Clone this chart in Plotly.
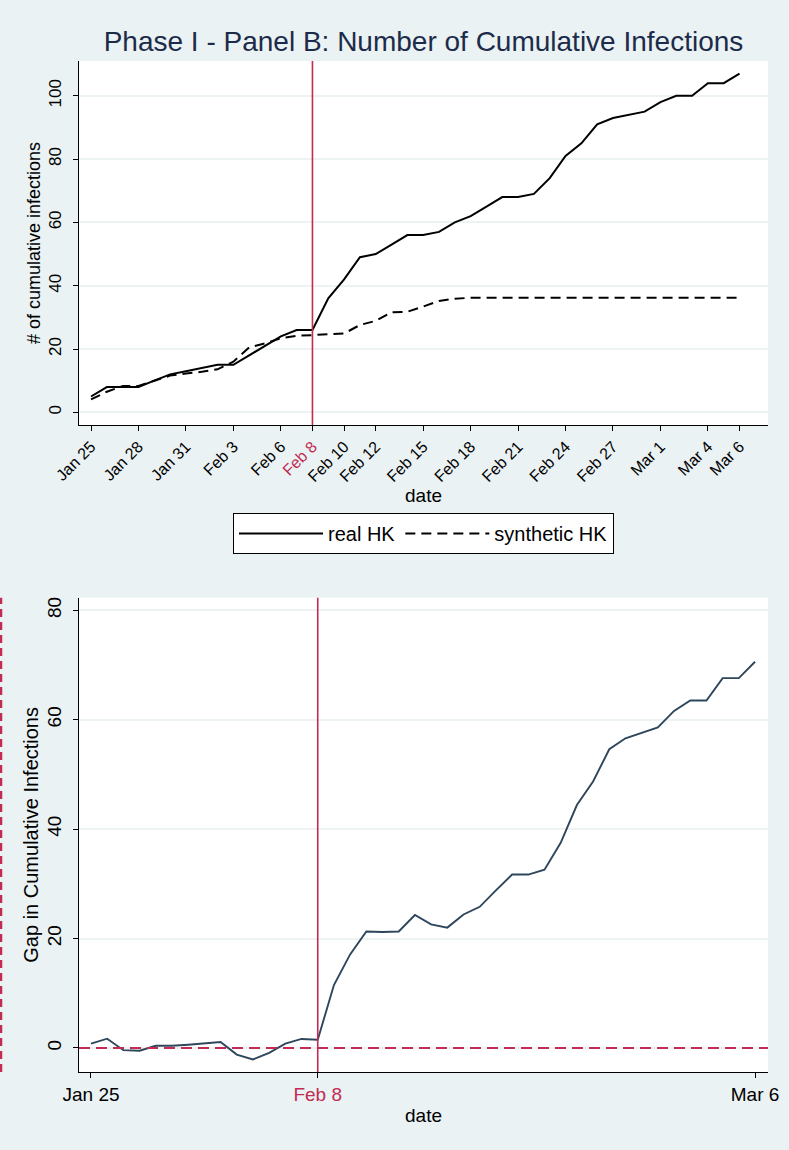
import pandas as pd
import plotly.graph_objects as go

# ---------------- data ----------------
dates = pd.date_range("2020-01-25", "2020-03-06").strftime("%Y-%m-%d").tolist()

real_hk = [5, 8, 8, 8, 10, 12, 13, 14, 15, 15, 18, 21, 24, 26, 26,
           36, 42, 49, 50, 53, 56, 56, 57, 60, 62, 65, 68, 68, 69, 74,
           81, 85, 91, 93, 94, 95, 98, 100, 100, 104, 104, 107]

synthetic_hk = [4.1, 6.5, 8.3, 8.3, 10.0, 11.6, 12.3, 12.8, 13.6, 16.0, 20.5, 21.8, 23.4, 24.2, 24.4,
                24.7, 24.9, 27.6, 28.9, 31.6, 31.8, 33.4, 35.2, 35.9, 36.2, 36.2, 36.2, 36.2, 36.2, 36.2,
                36.2, 36.2, 36.2, 36.2, 36.2, 36.2, 36.2, 36.2, 36.2, 36.2, 36.2, 36.2]

gap = [0.8, 1.7, -0.4, -0.5, 0.4, 0.4, 0.6, 0.85, 1.1, -1.2, -2.1, -0.9, 0.8, 1.65, 1.5,
       11.5, 17.1, 21.3, 21.2, 21.3, 24.3, 22.6, 22.0, 24.4, 25.8, 28.8, 31.7, 31.7, 32.6, 37.5,
       44.4, 48.7, 54.6, 56.6, 57.6, 58.6, 61.6, 63.5, 63.5, 67.6, 67.6, 70.6]

treat_date = "2020-02-08"

top_tick_dates = ["2020-01-25", "2020-01-28", "2020-01-31", "2020-02-03", "2020-02-06", "2020-02-08",
                  "2020-02-10", "2020-02-12", "2020-02-15", "2020-02-18", "2020-02-21", "2020-02-24",
                  "2020-02-27", "2020-03-01", "2020-03-04", "2020-03-06"]
top_tick_labels = ["Jan 25", "Jan 28", "Jan 31", "Feb 3", "Feb 6", "Feb 8", "Feb 10", "Feb 12",
                   "Feb 15", "Feb 18", "Feb 21", "Feb 24", "Feb 27", "Mar 1", "Mar 4", "Mar 6"]
bottom_tick_dates = ["2020-01-25", "2020-02-08", "2020-03-06"]
bottom_tick_labels = ["Jan 25", "Feb 8", "Mar 6"]

top_yticks = [0, 20, 40, 60, 80, 100]
bottom_yticks = [0, 20, 40, 60, 80]

# ---------------- style ----------------
BG = "#EAF2F3"
RED = "#C22B52"
NAVY = "#2E465C"
TITLE_C = "#1D2B4A"
GRID = "#EDF2F3"
FONT = "Liberation Sans, Arial, Helvetica, sans-serif"


def red_label(lbl):
    return f'<span style="color:{RED}">{lbl}</span>' if lbl == "Feb 8" else lbl


W, H = 789, 1150
ML, MR, MT, MB = 79, 21, 61, 78
plot_h = H - MT - MB


def yfrac(py):
    return (H - MB - py) / plot_h


start = pd.Timestamp("2020-01-25")

fig = go.Figure()

fig.add_trace(go.Scatter(x=dates, y=real_hk, mode="lines", name="real HK",
                         line=dict(color="black", width=2), xaxis="x", yaxis="y"))
fig.add_trace(go.Scatter(x=dates, y=synthetic_hk, mode="lines", name="synthetic HK",
                         line=dict(color="black", width=2, dash="10px,6px"), xaxis="x", yaxis="y"))
fig.add_trace(go.Scatter(x=dates, y=gap, mode="lines", showlegend=False,
                         line=dict(color=NAVY, width=1.9), xaxis="x2", yaxis="y2"))

axis_common = dict(showline=True, linecolor="black", linewidth=1, ticks="outside",
                   tickcolor="black", ticklen=5, zeroline=False, automargin=False)

fig.update_layout(
    width=W, height=H,
    margin=dict(l=ML, r=MR, t=MT, b=MB),
    paper_bgcolor=BG, plot_bgcolor="white",
    font=dict(family=FONT, color="black"),
    title=dict(text="Phase I - Panel B: Number of Cumulative Infections",
               x=0.5, xref="paper", xanchor="center",
               y=1 - 41 / H, yanchor="middle",
               font=dict(size=28, color=TITLE_C, family=FONT)),
    xaxis=dict(domain=[0, 1], anchor="y", type="date",
               range=[start - pd.Timedelta(days=0.76), start + pd.Timedelta(days=42.8)],
               tickvals=top_tick_dates, ticktext=[red_label(t) for t in top_tick_labels],
               tickangle=-45, tickfont=dict(size=16), showgrid=False,
               title=dict(text="date", font=dict(size=19), standoff=1),
               **axis_common),
    yaxis=dict(domain=[yfrac(425), 1.0], anchor="x", range=[-4, 111],
               tickvals=top_yticks, tickangle=-90, tickfont=dict(size=17),
               ticklabelstandoff=5,
               showgrid=True, gridcolor=GRID, gridwidth=1.5,
               title=dict(text="# of cumulative infections", font=dict(size=18), standoff=0),
               **axis_common),
    xaxis2=dict(domain=[0, 1], anchor="y2", type="date",
                range=[start - pd.Timedelta(days=0.74), start + pd.Timedelta(days=41.8)],
                tickvals=bottom_tick_dates, ticktext=[red_label(t) for t in bottom_tick_labels],
                tickangle=0, tickfont=dict(size=19), showgrid=False,
                title=dict(text="date", font=dict(size=19), standoff=4),
                **axis_common),
    yaxis2=dict(domain=[0, yfrac(597.7)], anchor="x2", range=[-4.39, 82.3],
                tickvals=bottom_yticks, tickangle=-90, tickfont=dict(size=19),
                ticklabelstandoff=4,
                showgrid=True, gridcolor=GRID, gridwidth=1.5,
                title=dict(text="Gap in Cumulative Infections", font=dict(size=20), standoff=0),
                **axis_common),
    legend=dict(orientation="h", x=0.5, xanchor="center", y=yfrac(513), yanchor="top",
                bgcolor="white", bordercolor="black", borderwidth=1,
                font=dict(size=20), itemwidth=84, entrywidth=0, tracegroupgap=0),
    shapes=[
        dict(type="line", xref="x", yref="y domain", x0=treat_date, x1=treat_date, y0=0, y1=1,
             line=dict(color=RED, width=1.6)),
        dict(type="line", xref="x2", yref="y2 domain", x0=treat_date, x1=treat_date, y0=0, y1=1,
             line=dict(color=RED, width=1.6)),
        dict(type="line", xref="x2 domain", yref="y2", x0=0, x1=1, y0=0, y1=0,
             line=dict(color=RED, width=2, dash="11px,6px")),
        dict(type="line", xref="paper", yref="y2 domain", x0=-(ML - 1) / (W - ML - MR),
             x1=-(ML - 1) / (W - ML - MR), y0=0, y1=1,
             line=dict(color=RED, width=2.5, dash="8px,5px")),
    ],
)

fig.write_html("out.html", config={"displayModeBar": False},
               post_script="document.body.style.margin='0';document.body.style.overflow='hidden';")
